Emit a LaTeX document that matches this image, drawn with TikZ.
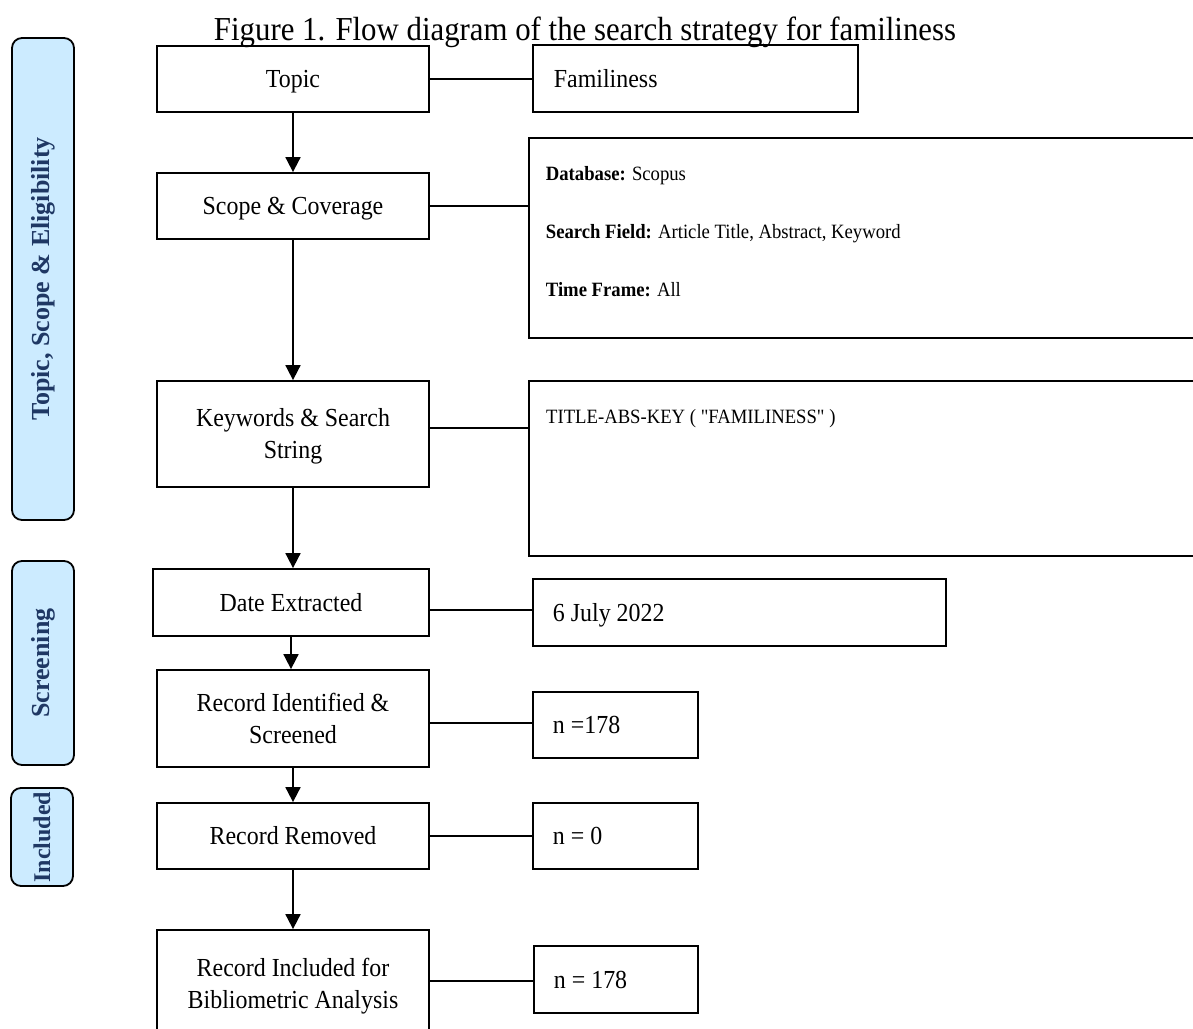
\documentclass[tikz,border=0pt]{standalone}
\usepackage{fontspec}
\setmainfont{Liberation Serif}[FakeStretch=0.92]
\newfontfamily\plainfont{Liberation Serif}[FakeStretch=0.92]
\newfontfamily\barfont{Liberation Serif}
\usetikzlibrary{arrows.meta,calc}
\definecolor{barfill}{HTML}{CCEBFF}
\definecolor{bartext}{HTML}{1F3864}
\begin{document}
\begin{tikzpicture}[x=1pt,y=-1pt,
  lbox/.style={draw, line width=1.8pt, minimum width=272pt, inner sep=0pt, align=center,
    text height=17.3pt, text depth=0pt, font=\fontsize{26}{32}\selectfont},
  twoline/.style={text height=49.3pt, text depth=0pt},
  rbox/.style={draw, line width=1.8pt, inner xsep=20pt, inner ysep=0pt, align=flush left, anchor=west,
    text height=17.3pt, text depth=0pt, font=\fontsize{26}{32}\selectfont},
  emptybox/.style={draw, line width=1.8pt, inner sep=0pt, anchor=north west},
  smalltext/.style={font=\plainfont\fontsize{20.3}{58}\selectfont, inner sep=0pt},
  phase/.style={draw, line width=1.8pt, fill=barfill, rounded corners=10pt, minimum width=62pt,
    inner sep=0pt, text=bartext, font=\barfont\bfseries\fontsize{26}{30}\selectfont},
  conn/.style={line width=1.8pt},
  arr/.style={line width=1.8pt, -{Triangle[length=15pt,width=15pt]}}]
\useasboundingbox (0,0) rectangle (1193,1028);
\clip (0,0) rectangle (1193,1028);

% title
\node[anchor=base, inner sep=0pt, font=\fontsize{33.5}{40}\selectfont] (title) at (585,40)
  {Figure 1. Flow diagram of the search strategy for familiness};

% phase bars
\node[phase, minimum height=482pt] (b1) at (43,279) {\rotatebox{90}{Topic, Scope \& Eligibility}};
\node[phase, minimum height=204pt] (b2) at (43,663) {\rotatebox{90}{Screening}};
\node[phase, minimum height=98pt, font=\barfont\bfseries\fontsize{24}{28}\selectfont] (b3) at (42,837) {\rotatebox{90}{Included}};

% left column
\node[lbox, minimum height=66pt] (topic) at (293,79) {Topic};
\node[lbox, minimum height=66pt] (scope) at (293,206) {Scope \& Coverage};
\node[lbox, twoline, minimum height=106pt] (kw) at (293,434) {Keywords \& Search\\String};
\node[lbox, minimum height=67pt, minimum width=276pt] (date) at (291,602.5) {Date Extracted};
\node[lbox, twoline, minimum height=97pt] (rid) at (293,718.5) {Record Identified \&\\Screened};
\node[lbox, minimum height=66pt] (rem) at (293,836) {Record Removed};
\node[lbox, twoline, minimum height=107pt] (inc) at (293,983.5) {Record Included for\\Bibliometric Analysis};

% right column
\node[rbox, inner xsep=21pt, text width=283pt, minimum height=67pt] (fam) at (532,78.5) {Familiness};
\node[rbox, inner xsep=17pt, text width=688pt, minimum height=200pt, text height=13.4pt, text depth=128pt,
  font=\fontsize{20.3}{58}\selectfont] (db) at (528,238)
  {\textbf{Database:} Scopus\\\textbf{Search Field:} Article Title, Abstract, Keyword\\\textbf{Time Frame:} All};
\node[emptybox, minimum width=722pt, minimum height=175pt] (tak) at (528,380) {};
\node[smalltext, anchor=base west] (takt) at ($(tak.north west)+(18,43)$) {TITLE-ABS-KEY ( "FAMILINESS" )};
\node[rbox, text width=373pt, minimum height=67pt] (july) at (532,612.5) {6 July 2022};
\node[rbox, text width=125pt, minimum height=66pt] (n1) at (532,725) {n =178};
\node[rbox, text width=125pt, minimum height=66pt] (n0) at (532,836) {n = 0};
\node[rbox, text width=124pt, minimum height=67pt] (n2) at (533,979.5) {n = 178};

% vertical arrows
\draw[arr] (topic.south) -- (scope.north);
\draw[arr] (scope.south) -- (kw.north);
\draw[arr] (kw.south) -- (kw.south |- date.north);
\draw[arr] (date.south) -- (date.south |- rid.north);
\draw[arr] (rid.south) -- (rem.north);
\draw[arr] (rem.south) -- (inc.north);

% horizontal connectors
\draw[conn] (topic.east) -- (topic.east -| fam.west);
\draw[conn] (scope.east) -- (scope.east -| db.west);
\draw[conn] ([yshift=6pt]kw.east) -- ([yshift=6pt]kw.east -| tak.west);
\draw[conn] ([yshift=-7.5pt]date.east) -- ([yshift=-7.5pt]date.east -| july.west);
\draw[conn] ([yshift=-4.5pt]rid.east) -- ([yshift=-4.5pt]rid.east -| n1.west);
\draw[conn] (rem.east) -- (rem.east -| n0.west);
\draw[conn] ([yshift=2.5pt]inc.east) -- ([yshift=2.5pt]inc.east -| n2.west);
\end{tikzpicture}
\end{document}
